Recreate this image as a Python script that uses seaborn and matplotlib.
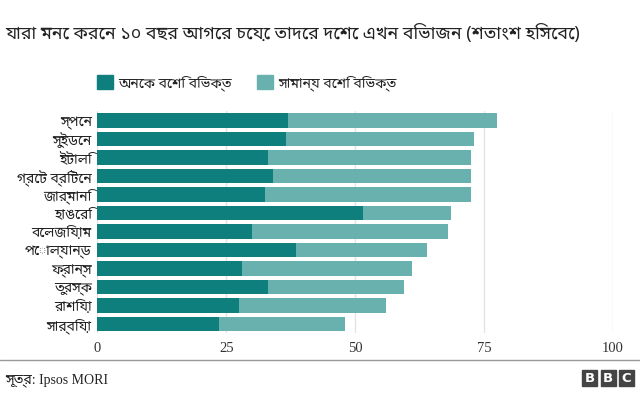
import numpy as np
import pandas as pd
import matplotlib
matplotlib.use("Agg")
import matplotlib.pyplot as plt
import seaborn as sns
from matplotlib.lines import Line2D
from matplotlib.patches import Rectangle

# =====================================================
# Data
# =====================================================
countries = ["স্পেন", "সুইডেন", "ইটালি", "গ্রেট ব্রিটেন", "জার্মানি", "হাঙেরি",
             "বেলজিয়াম", "পোল্যান্ড", "ফ্রান্স", "তুরস্ক", "রাশিয়া", "সার্বিয়া"]
much_more = [37, 36.5, 33, 34, 32.5, 51.5, 30, 38.5, 28, 33, 27.5, 23.5]
somewhat_more = [40.5, 36.5, 39.5, 38.5, 40, 17, 38, 25.5, 33, 26.5, 28.5, 24.5]

label_much = "অনেক বেশি বিভক্ত"
label_some = "সামান্য বেশি বিভক্ত"
title = "যারা মনে করেন ১০ বছর আগের চেয়ে তাদের দেশে এখন বিভাজন (শতাংশ হিসেবে)"
source = "সূত্র: Ipsos MORI"
xticks = [0, 25, 50, 75, 100]

DARK = "#0e7f7c"
LIGHT = "#68b1ae"

df = pd.DataFrame({"country": countries, "much": much_more, "some": somewhat_more})
df["total"] = df["much"] + df["some"]

# =====================================================
# Plot
# =====================================================
sns.set_style("white")
bn_fonts = ["Noto Sans Bengali", "Noto Serif Bengali", "Lohit Bengali",
            "FreeSerif", "Noto Sans", "DejaVu Sans"]
plt.rcParams["font.family"] = bn_fonts

fig = plt.figure(figsize=(6.4, 3.96), dpi=100)
ax = fig.add_axes([0.152, 0.158, 0.806, 0.561])

sns.barplot(data=df, x="total", y="country", orient="h", color=LIGHT,
            width=0.78, linewidth=0, saturation=1, ax=ax)
sns.barplot(data=df, x="much", y="country", orient="h", color=DARK,
            width=0.78, linewidth=0, saturation=1, ax=ax)

ax.set_xlim(0, 100)
ax.set_ylim(len(countries) - 0.5, -0.5)
ax.set_xticks(xticks)
ax.set_xticklabels([str(t) for t in xticks], family=["Liberation Serif"], fontsize=10.5,
                   color="#333333")
ax.set_yticklabels(countries, fontsize=10, color="#222222")
ax.tick_params(axis="both", length=0)
ax.tick_params(axis="x", pad=6)
ax.tick_params(axis="y", pad=4)
ax.set_xlabel("")
ax.set_ylabel("")
for s in ax.spines.values():
    s.set_visible(False)
ax.set_axisbelow(True)
ax.grid(axis="x", color="#e3e3e3", linewidth=1)
ax.grid(axis="y", visible=False)

# title
fig.text(0.008, 0.915, title, fontsize=12.8, color="#222222", va="center", ha="left")

# legend
handles = [Rectangle((0, 0), 1, 1, color=DARK), Rectangle((0, 0), 1, 1, color=LIGHT)]
fig.legend(handles, [label_much, label_some], loc="center left",
           bbox_to_anchor=(0.143, 0.79), ncol=2, frameon=False, fontsize=10,
           handlelength=1.15, handleheight=1.15, handletextpad=0.4,
           columnspacing=1.75, borderaxespad=0)

# footer
fig.add_artist(Line2D([0, 1], [0.09, 0.09], color="#999999", linewidth=1))
fig.text(0.008, 0.04, source, fontsize=10, color="#222222", va="center", ha="left",
         family=["Liberation Serif"] + bn_fonts)

# BBC blocks
for i, letter in enumerate("BBC"):
    x0 = (582 + i * 18.5) / 640
    fig.add_artist(Rectangle((x0, 0.025), 15 / 640, 16 / 396, color="#444444",
                             transform=fig.transFigure))
    fig.text(x0 + 7.5 / 640, 0.025 + 8 / 396, letter, color="white", fontsize=9.5,
             fontweight="bold", ha="center", va="center", family=["DejaVu Sans"])

fig.savefig("out.png", dpi=100)
